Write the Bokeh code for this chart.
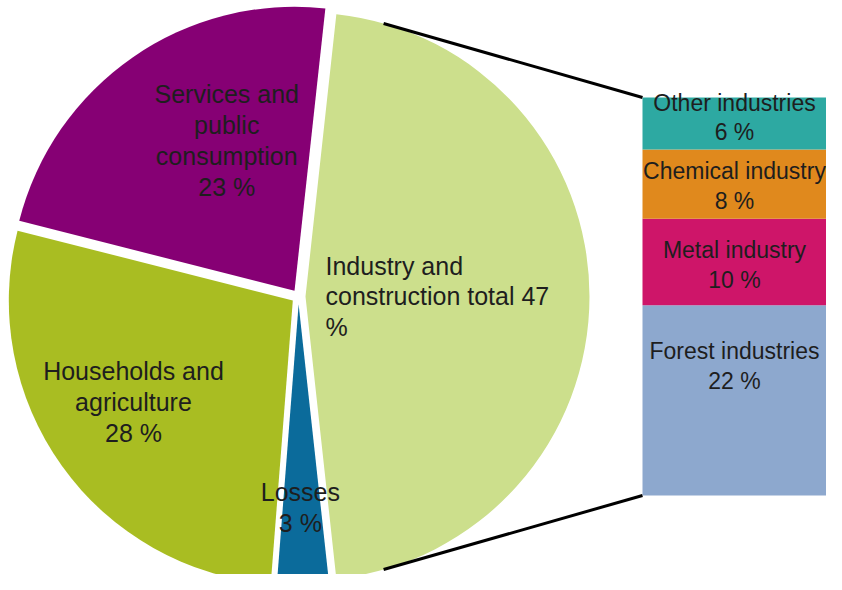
import numpy as np
from bokeh.plotting import figure
from bokeh.models import Range1d, ColumnDataSource
from bokeh.embed import file_html
from bokeh.resources import INLINE
from bokeh.core.properties import value

# ---- data ----
pie_categories = ["Industry and construction total", "Services and public consumption",
                  "Households and agriculture", "Losses"]
pie_labels = ["Industry  and\nconstruction total 47\n%", "Services and\npublic\nconsumption\n23 %",
              "Households and\nagriculture\n28 %", "Losses\n3 %"]
pie_values = [47, 23, 28, 3]

bar_categories = ["Forest industries", "Metal industry", "Chemical industry", "Other industries"]
bar_labels = ["Forest industries\n22 %", "Metal industry\n10 %", "Chemical industry\n8 %",
              "Other industries\n6 %"]
bar_values = [22, 10, 8, 6]

# ---- styles ----
pie_colors = ["#CCDF8C", "#860074", "#A9BD22", "#0B6B9B"]
bar_colors = ["#8DA8CE", "#CE1569", "#E0891D", "#2DA9A2"]
explode = [7, 7, 7, 8]
label_r = [20, 165, 189, 203]
label_da = [0, -10.5, -3.1, -0.4]
label_align = ["left", "center", "center", "center"]
label_yo = [-34, 3, 2, -6]
FONT = value("Liberation Sans")
FS = "25px"
FS_BAR = "23px"
TXT = "#1E1E1E"
LH = 1.1

W, H = 826, 574
TOTAL_H = 590
p = figure(width=W, height=H, output_backend="svg", toolbar_location=None,
           x_range=Range1d(0, W), y_range=Range1d(TOTAL_H - H, TOTAL_H),
           min_border=0, outline_line_color=None)
p.axis.visible = False
p.grid.visible = False
p.background_fill_color = "white"
p.border_fill_color = "white"

# ---- pie ----
cx, cy, R = 298.0, 294.0, 284.0
vals = np.array(pie_values, dtype=float)
frac = vals / vals.sum()
start0 = -frac[0] * np.pi
ends = start0 + np.cumsum(frac) * 2 * np.pi
starts = np.concatenate([[start0], ends[:-1]])
mids = (starts + ends) / 2
ex = cx + np.array(explode) * np.cos(mids)
ey = cy + np.array(explode) * np.sin(mids)

pie_src = ColumnDataSource(dict(x=ex, y=ey, s=starts, e=ends, c=pie_colors, cat=pie_categories))
p.wedge(x="x", y="y", radius=R, start_angle="s", end_angle="e", direction="anticlock",
        fill_color="c", line_color=None, source=pie_src)

la = mids + np.radians(label_da)
lx = ex + np.array(label_r) * np.cos(la)
ly = ey + np.array(label_r) * np.sin(la)
for i in range(len(pie_values)):
    p.text(x=[lx[i]], y=[ly[i]], text=[pie_labels[i]], text_font=FONT, text_font_size=FS,
           text_color=TXT, text_align=label_align[i], text_baseline="middle",
           text_line_height=LH)

# ---- bar ----
bar_left, bar_right = 642.0, float(W)
bar_bottom_px, bar_top_px = 95.0, 493.0
bv = np.array(bar_values, dtype=float)
k = (bar_top_px - bar_bottom_px) / bv.sum()
p.extra_y_ranges = {"bar": Range1d((TOTAL_H - H - bar_bottom_px) / k, (TOTAL_H - bar_bottom_px) / k)}
tops = np.cumsum(bv)
bottoms = tops - bv
bar_src = ColumnDataSource(dict(x=[(bar_left + bar_right) / 2] * len(bv), b=bottoms, t=tops,
                                c=bar_colors, cat=bar_categories, lab=bar_labels,
                                ym=(bottoms + tops) / 2, yo=label_yo))
p.vbar(x="x", width=bar_right - bar_left, bottom="b", top="t", fill_color="c",
       line_color=None, y_range_name="bar", source=bar_src)
p.text(x="x", y="ym", text="lab", y_offset="yo", text_font=FONT, text_font_size=FS_BAR,
       text_color=TXT, text_align="center", text_baseline="middle", text_line_height=1.15,
       y_range_name="bar", source=bar_src)

# ---- connector lines (tangent from bar corners to the industry slice) ----
icx, icy = ex[0], ey[0]
xs, ys = [], []
for py, sgn in ((bar_top_px, 1), (bar_bottom_px, -1)):
    dx, dy = bar_left - icx, py - icy
    d = np.hypot(dx, dy)
    t = np.arctan2(dy, dx) + sgn * np.arccos(R / d)
    xs.append([icx + R * np.cos(t), bar_left])
    ys.append([icy + R * np.sin(t), py])
p.multi_line(xs=xs, ys=ys, line_color="black", line_width=3)

open("out.html", "w").write(file_html(p, INLINE))
